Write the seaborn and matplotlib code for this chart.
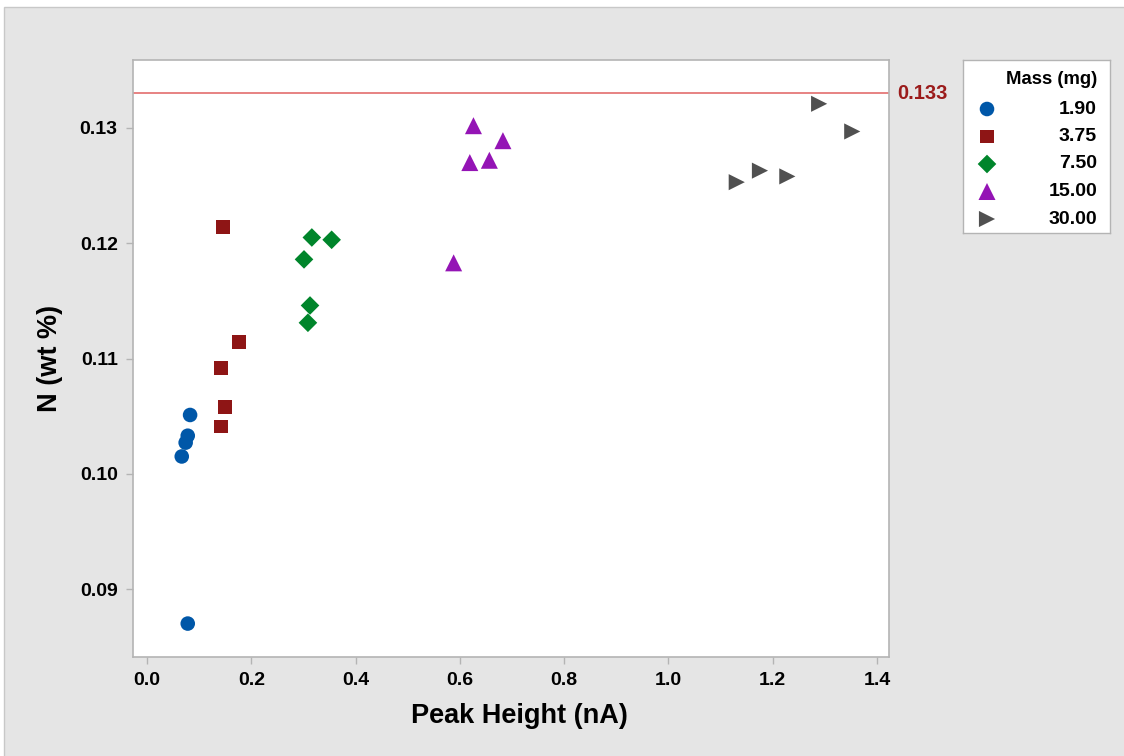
import pandas as pd
import matplotlib
matplotlib.use("Agg")
import matplotlib.pyplot as plt
from matplotlib.patches import Rectangle
import seaborn as sns

# values
mass_labels = ["1.90", "3.75", "7.50", "15.00", "30.00"]
peak_190 = [0.0825, 0.078, 0.074, 0.0665, 0.078]
n_190 = [0.1051, 0.1033, 0.1027, 0.1015, 0.0870]
peak_375 = [0.146, 0.176, 0.1425, 0.150, 0.1425]
n_375 = [0.1214, 0.1114, 0.1092, 0.1058, 0.1041]
peak_750 = [0.316, 0.354, 0.301, 0.3125, 0.3085]
n_750 = [0.1205, 0.1203, 0.1186, 0.1146, 0.1131]
peak_1500 = [0.626, 0.6825, 0.619, 0.6565, 0.588]
n_1500 = [0.1302, 0.1289, 0.1270, 0.1272, 0.1183]
peak_3000 = [1.289, 1.3525, 1.131, 1.1755, 1.228]
n_3000 = [0.1321, 0.1297, 0.1253, 0.1263, 0.1258]
ref_value = 0.133

colors = ["#0057A8", "#8E1515", "#00852B", "#9414B5", "#505050"]
markers = ["o", "s", "D", "^", ">"]
sizes = [110, 100, 90, 150, 135]

peaks = [peak_190, peak_375, peak_750, peak_1500, peak_3000]
ns = [n_190, n_375, n_750, n_1500, n_3000]
rows = []
for lab, xs, ys in zip(mass_labels, peaks, ns):
    for x, y in zip(xs, ys):
        rows.append({"Mass": lab, "Peak": x, "N": y})
df = pd.DataFrame(rows)

sns.set_theme(style="ticks")
plt.rcParams["font.family"] = ["Liberation Sans", "DejaVu Sans"]
plt.rcParams["font.weight"] = "bold"
plt.rcParams["axes.labelcolor"] = "black"
plt.rcParams["text.color"] = "black"

bg = "#e5e5e5"
fig = plt.figure(figsize=(11.24, 7.56), dpi=100, facecolor="white")
fig.patches.append(Rectangle((4 / 1124, -0.01), 1.0, 1 - 7 / 756 + 0.01,
                             transform=fig.transFigure, facecolor=bg,
                             edgecolor="#c8c8c8", linewidth=1.0, zorder=-10))

ax = fig.add_axes([133 / 1124, 1 - 657 / 756, (889 - 133) / 1124, (657 - 60) / 756])
ax.set_facecolor("white")

for lab, col, mk, sz in zip(mass_labels, colors, markers, sizes):
    sub = df[df["Mass"] == lab]
    sns.scatterplot(data=sub, x="Peak", y="N", color=col, marker=mk, s=sz,
                    edgecolor="none", linewidth=0, ax=ax, legend=False, zorder=3)

ax.axhline(ref_value, color="#E06060", linewidth=1.1, zorder=2)
ax.text(1.0106, ref_value, f"{ref_value:.3f}", transform=ax.get_yaxis_transform(),
        color="#9B1B1B", fontsize=14.5, fontweight="bold", va="center", ha="left",
        clip_on=False)

ax.set_xlim(-0.027, 1.423)
ax.set_ylim(0.0841, 0.1359)
ax.set_xticks([0.0, 0.2, 0.4, 0.6, 0.8, 1.0, 1.2, 1.4])
ax.set_xticklabels([f"{v:.1f}" for v in ax.get_xticks()])
ax.set_yticks([0.09, 0.10, 0.11, 0.12, 0.13])
ax.set_yticklabels([f"{v:.2f}" for v in ax.get_yticks()])
ax.tick_params(axis="both", labelsize=14, length=5, width=1, color="#b4b4b4",
               pad=6, labelcolor="black")
for sp in ax.spines.values():
    sp.set_color("#b4b4b4")
    sp.set_linewidth(1.2)

ax.set_xlabel("Peak Height (nA)", fontsize=19.5, fontweight="bold")
ax.xaxis.set_label_coords(0.511, -0.077)
ax.set_ylabel("N (wt %)", fontsize=19.5, fontweight="bold", labelpad=12)

# legend box
lax = fig.add_axes([963 / 1124, 1 - 233 / 756, (1110 - 963) / 1124, (233 - 60) / 756])
lax.set_xlim(0, 147)
lax.set_ylim(173, 0)
lax.set_xticks([])
lax.set_yticks([])
lax.set_facecolor("white")
for sp in lax.spines.values():
    sp.set_color("#b4b4b4")
    sp.set_linewidth(1.0)
lax.text(134, 20, "Mass (mg)", fontsize=13.3, fontweight="bold", ha="right", va="center")
for i, (lab, col, mk, sz) in enumerate(zip(mass_labels, colors, markers, sizes)):
    yy = 49 + i * 27.5
    lax.scatter([24], [yy], color=col, marker=mk, s=sz, edgecolor="none")
    lax.text(134, yy, lab, fontsize=14, fontweight="bold", ha="right", va="center")

fig.savefig("out.png", dpi=100, facecolor=fig.get_facecolor())
